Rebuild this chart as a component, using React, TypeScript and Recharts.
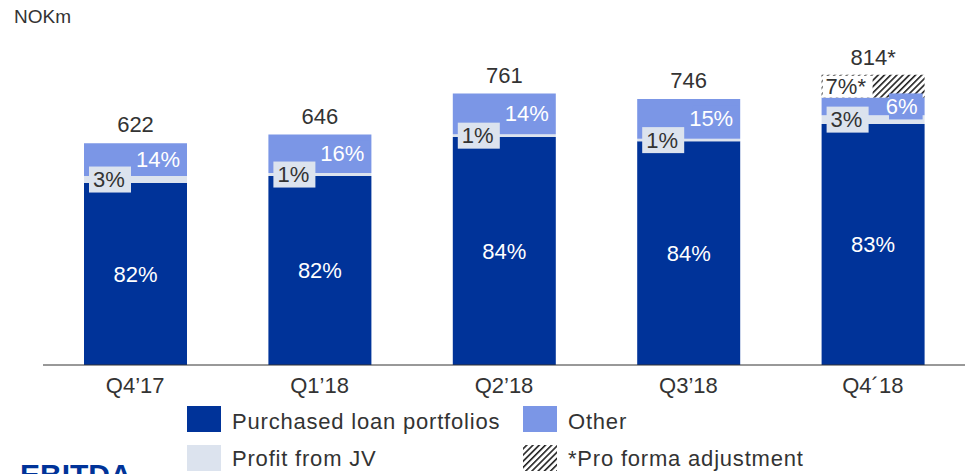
import { BarChart, Bar, XAxis, YAxis, LabelList } from "recharts";

const quarters = ["Q4’17", "Q1’18", "Q2’18", "Q3’18", "Q4´18"];
const purchased = [510, 530, 639, 627, 676];
const jv = [20, 8, 8, 7, 24];
const other = [92, 108, 114, 112, 50];
const proForma = [0, 0, 0, 0, 64];
const totals = ["622", "646", "761", "746", "814*"];
const purchasedPct = ["82%", "82%", "84%", "84%", "83%"];
const jvPct = ["3%", "1%", "1%", "1%", "3%"];
const otherPct = ["14%", "16%", "14%", "15%", "6%"];
const proFormaPct = ["", "", "", "", "7%*"];

const DARK = "#003399";
const OTHER = "#7b96e6";
const JV = "#dce3ee";
const TEXT = "#333333";
const FONT = "'Liberation Sans', Arial, sans-serif";

const data = quarters.map((q, i) => ({
  q,
  purchased: purchased[i],
  jv: jv[i],
  other: other[i],
  proForma: proForma[i],
}));

const textW = (s: string) => s.length * 12.3;

const PurchasedLabel = (p: any) => (
  <text
    x={p.x + p.width / 2}
    y={p.y + p.height / 2}
    textAnchor="middle"
    dominantBaseline="central"
    fill="#fff"
    fontSize={22}
    fontFamily={FONT}
  >
    {purchasedPct[p.index]}
  </text>
);

const JvLabel = (p: any) => {
  const cy = p.y + p.height / 2;
  return (
    <g>
      <rect x={p.x + 5} y={cy - 13} width={42} height={26} fill={JV} />
      <text x={p.x + 9} y={cy} dominantBaseline="central" fill={TEXT} fontSize={22} fontFamily={FONT}>
        {jvPct[p.index]}
      </text>
    </g>
  );
};

const OtherLabel = (p: any) => {
  const i = p.index;
  const cy = p.y + p.height / 2;
  const end = p.x + p.width - 7;
  const tw = textW(otherPct[i]);
  return (
    <g>
      <rect x={end - tw - 4} y={cy - 13} width={tw + 9} height={26} fill={OTHER} />
      <text x={end} y={cy} textAnchor="end" dominantBaseline="central" fill="#fff" fontSize={22} fontFamily={FONT}>
        {otherPct[i]}
      </text>
      {proForma[i] === 0 && (
        <text x={p.x + p.width / 2} y={p.y - 11} textAnchor="middle" fill={TEXT} fontSize={22} fontFamily={FONT}>
          {totals[i]}
        </text>
      )}
    </g>
  );
};

const ProFormaLabel = (p: any) => {
  if (!p.value) return null;
  // zero-height bars are dropped, so look the index up by value
  const i = proForma.findIndex((v) => v === p.value);
  return (
    <g>
      <rect x={p.x + 1} y={p.y + 1} width={50} height={p.height - 1} fill="#fff" />
      <text x={p.x + 4} y={p.y + p.height / 2} dominantBaseline="central" fill={TEXT} fontSize={22} fontFamily={FONT}>
        {proFormaPct[i]}
      </text>
      <text x={p.x + p.width / 2} y={p.y - 10} textAnchor="middle" fill={TEXT} fontSize={22} fontFamily={FONT}>
        {totals[i]}
      </text>
    </g>
  );
};

export default function App() {
  return (
    <div style={{ position: "absolute", left: 0, top: 0, width: 965, height: 474, overflow: "hidden", background: "#fff" }}>
      <BarChart
        width={965}
        height={474}
        data={data}
        margin={{ top: 44, right: 0, bottom: 79, left: 43 }}
        barSize={103}
      >
        <defs>
          <pattern id="hatch" patternUnits="userSpaceOnUse" width={4.4} height={4.4} patternTransform="rotate(45)">
            <rect width={4.4} height={4.4} fill="#fff" />
            <rect x={0} y={0} width={1.6} height={4.4} fill="#222" />
          </pattern>
        </defs>
        <XAxis
          dataKey="q"
          height={30}
          tickLine={false}
          tickMargin={6}
          axisLine={{ stroke: "#333", strokeWidth: 1 }}
          tick={{ fontSize: 22, fill: TEXT, fontFamily: FONT }}
        />
        <YAxis hide domain={[0, 900]} />
        <Bar dataKey="purchased" stackId="a" fill={DARK} isAnimationActive={false}>
          <LabelList dataKey="purchased" content={PurchasedLabel} />
        </Bar>
        <Bar dataKey="jv" stackId="a" fill={JV} isAnimationActive={false}>
          <LabelList dataKey="jv" content={JvLabel} />
        </Bar>
        <Bar dataKey="other" stackId="a" fill={OTHER} isAnimationActive={false}>
          <LabelList dataKey="other" content={OtherLabel} />
        </Bar>
        <Bar dataKey="proForma" stackId="a" fill="url(#hatch)" isAnimationActive={false}>
          <LabelList dataKey="proForma" content={ProFormaLabel} />
        </Bar>
      </BarChart>
      <svg width={965} height={474} style={{ position: "absolute", left: 0, top: 0, pointerEvents: "none" }}>
        <defs>
          <pattern id="hatchLegend" patternUnits="userSpaceOnUse" width={4.4} height={4.4} patternTransform="rotate(45)">
            <rect width={4.4} height={4.4} fill="#fff" />
            <rect x={0} y={0} width={1.6} height={4.4} fill="#222" />
          </pattern>
        </defs>
        <text x={14} y={23} fontSize={19} fill={TEXT} fontFamily={FONT}>NOKm</text>
        <rect x={187} y={406} width={34} height={26} fill={DARK} />
        <text x={232} y={429} fontSize={22} letterSpacing={0.8} fill={TEXT} fontFamily={FONT}>Purchased loan portfolios</text>
        <rect x={523} y={406} width={34} height={26} fill={OTHER} />
        <text x={568} y={429} fontSize={22} letterSpacing={0.8} fill={TEXT} fontFamily={FONT}>Other</text>
        <rect x={187} y={445} width={34} height={26} fill={JV} />
        <text x={232} y={466} fontSize={22} letterSpacing={0.8} fill={TEXT} fontFamily={FONT}>Profit from JV</text>
        <rect x={523} y={445} width={34} height={26} fill="url(#hatchLegend)" />
        <text x={568} y={466} fontSize={22} letterSpacing={0.8} fill={TEXT} fontFamily={FONT}>*Pro forma adjustment</text>
        <text x={20} y={485} fontSize={30} fontWeight="bold" fill={DARK} fontFamily={FONT}>EBITDA</text>
      </svg>
    </div>
  );
}
